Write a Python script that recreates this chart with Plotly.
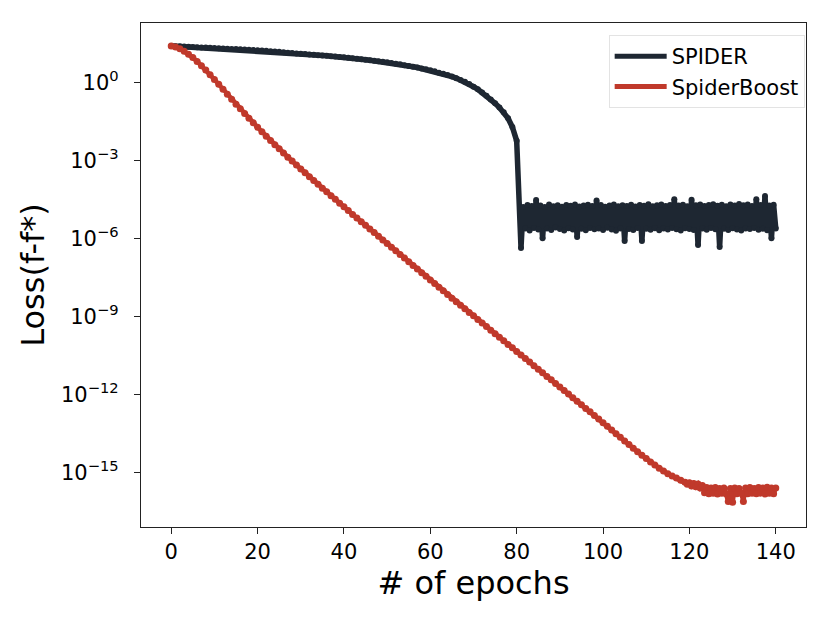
import plotly.graph_objects as go

# loss values as log10(f - f*)
# the noisy plateaus are sampled every half epoch
spider_epochs = list(range(82)) + [81.5 + 0.5 * i for i in range(118)]

spider_log10 = [
    1.40, 1.39, 1.39, 1.38, 1.37, 1.36, 1.35, 1.34, 1.34, 1.33,
    1.32, 1.31, 1.30, 1.29, 1.28, 1.28, 1.27, 1.26, 1.25, 1.24,
    1.23, 1.22, 1.21, 1.19, 1.18, 1.17, 1.16, 1.14, 1.13, 1.11,
    1.10, 1.09, 1.07, 1.06, 1.04, 1.03, 1.02, 1.00, 0.99, 0.97,
    0.96, 0.94, 0.92, 0.91, 0.89, 0.87, 0.85, 0.83, 0.81, 0.79,
    0.77, 0.74, 0.71, 0.69, 0.66, 0.63, 0.60, 0.57, 0.53, 0.50,
    0.46, 0.42, 0.37, 0.33, 0.28, 0.22, 0.16, 0.09, 0.02, -0.07,
    -0.17, -0.27, -0.39, -0.52, -0.66, -0.81, -0.97, -1.15, -1.38, -1.72,
    -2.25, -6.37,
    -4.80, -5.62, -4.72, -5.70, -4.76, -5.60, -4.53, -5.66, -4.74, -6.00,
    -4.80, -5.62, -4.70, -5.68, -4.77, -5.58, -4.73, -5.64, -4.79, -5.70,
    -4.72, -5.61, -4.75, -5.66, -4.70, -5.95, -4.78, -5.63, -4.74, -5.69,
    -4.71, -5.60, -4.76, -5.65, -4.55, -5.62, -4.72, -5.68, -4.79, -5.59,
    -4.74, -5.66, -4.70, -5.71, -4.77, -5.62, -4.73, -6.10, -4.76, -5.64,
    -4.71, -5.68, -4.78, -5.60, -4.72, -6.10, -4.75, -5.63, -4.69, -5.67,
    -4.77, -5.61, -4.73, -5.69, -4.70, -5.62, -4.76, -5.66, -4.72, -5.60,
    -4.50, -5.65, -4.74, -5.70, -4.71, -5.61, -4.77, -5.64, -4.52, -5.68,
    -4.73, -6.26, -4.70, -5.62, -4.76, -5.67, -4.72, -5.60, -4.69, -5.65,
    -4.75, -6.33, -4.71, -5.63, -4.77, -5.68, -4.70, -5.61, -4.74, -5.66,
    -4.68, -5.70, -4.73, -5.62, -4.70, -5.64, -4.76, -5.60, -4.50, -5.67,
    -4.72, -5.63, -4.37, -5.69, -4.74, -6.00, -4.71, -5.62,
]

boost_epochs = list(range(120)) + [119.5 + 0.5 * i for i in range(42)]

spiderboost_log10 = [
    1.40, 1.36, 1.29, 1.19, 1.08, 0.95, 0.80, 0.64, 0.47, 0.29,
    0.11, -0.08, -0.27, -0.46, -0.65, -0.84, -1.02, -1.20, -1.38, -1.56,
    -1.73, -1.90, -2.07, -2.24, -2.40, -2.56, -2.72, -2.88, -3.03, -3.18,
    -3.33, -3.48, -3.63, -3.78, -3.92, -4.07, -4.21, -4.36, -4.50, -4.65,
    -4.79, -4.93, -5.08, -5.22, -5.36, -5.50, -5.64, -5.78, -5.92, -6.06,
    -6.20, -6.34, -6.48, -6.62, -6.76, -6.90, -7.04, -7.18, -7.32, -7.46,
    -7.60, -7.74, -7.88, -8.02, -8.16, -8.30, -8.44, -8.57, -8.71, -8.85,
    -8.98, -9.12, -9.26, -9.39, -9.53, -9.67, -9.80, -9.94, -10.08, -10.21,
    -10.35, -10.49, -10.62, -10.76, -10.90, -11.03, -11.17, -11.31, -11.44, -11.58,
    -11.72, -11.85, -11.99, -12.13, -12.26, -12.40, -12.54, -12.67, -12.81, -12.95,
    -13.09, -13.23, -13.37, -13.51, -13.65, -13.79, -13.93, -14.07, -14.21, -14.34,
    -14.47, -14.60, -14.72, -14.84, -14.95, -15.05, -15.14, -15.22, -15.30, -15.38,
    -15.46, -15.40, -15.52, -15.43, -15.55, -15.45, -15.60, -15.50, -15.78, -15.58,
    -15.82, -15.60, -15.80, -15.58, -15.83, -15.62, -15.80, -15.60, -15.82, -16.12,
    -15.62, -16.15, -15.60, -15.82, -15.62, -15.80, -16.12, -15.60, -15.82, -15.58,
    -15.80, -15.62, -15.82, -15.58, -15.80, -15.60, -15.83, -15.57, -15.80, -15.60,
    -15.82, -15.60,
]

ytick_vals = [1e0, 1e-3, 1e-6, 1e-9, 1e-12, 1e-15]
ytick_text = ["10<sup>0</sup>", "10<sup>\u22123</sup>", "10<sup>\u22126</sup>",
              "10<sup>\u22129</sup>", "10<sup>\u221212</sup>", "10<sup>\u221215</sup>"]
xtick_vals = [0, 20, 40, 60, 80, 100, 120, 140]

SPIDER_COLOR = "#1e2732"
BOOST_COLOR = "#c0392b"
FONT = "DejaVu Sans"

fig = go.Figure()
fig.add_trace(go.Scatter(
    x=spider_epochs, y=[10 ** v for v in spider_log10], name="SPIDER", mode="lines+markers",
    line=dict(color=SPIDER_COLOR, width=5.5), marker=dict(color=SPIDER_COLOR, size=6),
    showlegend=False,
))
fig.add_trace(go.Scatter(
    x=boost_epochs, y=[10 ** v for v in spiderboost_log10], name="SpiderBoost", mode="lines+markers",
    line=dict(color=BOOST_COLOR, width=4.5), marker=dict(color=BOOST_COLOR, size=7),
    showlegend=False,
))
# legend entries drawn as plain line samples
fig.add_trace(go.Scatter(x=[None], y=[None], name="SPIDER", mode="lines",
                         line=dict(color=SPIDER_COLOR, width=5)))
fig.add_trace(go.Scatter(x=[None], y=[None], name="SpiderBoost", mode="lines",
                         line=dict(color=BOOST_COLOR, width=5)))

axis_common = dict(
    showline=True, linecolor="#222222", linewidth=1.3, mirror=True,
    showgrid=False, zeroline=False, ticks="outside", ticklen=6, tickwidth=1.2,
    tickcolor="#222222", tickfont=dict(family=FONT, size=21, color="black"),
    automargin=False,
)

fig.update_xaxes(
    range=[-7, 147], tickvals=xtick_vals,
    title=dict(text="# of epochs", font=dict(family=FONT, size=32, color="black"), standoff=8),
    **axis_common,
)
fig.update_yaxes(
    type="log", range=[-17.1, 2.28], tickvals=ytick_vals, ticktext=ytick_text,
    ticklabelstandoff=11,
    title=dict(text="Loss(f-f*)", font=dict(family=FONT, size=32, color="black"), standoff=6),
    **axis_common,
)

fig.update_layout(
    width=830, height=623,
    margin=dict(l=133, r=32, t=15, b=104),
    paper_bgcolor="white", plot_bgcolor="white",
    font=dict(family=FONT, color="black"),
    legend=dict(
        x=0.998, y=0.976, xanchor="right", yanchor="top",
        bgcolor="rgba(255,255,255,0.8)", bordercolor="#e3e3e3", borderwidth=1,
        font=dict(family=FONT, size=21, color="black"), itemwidth=52,
    ),
)

fig.write_html("out.html")
